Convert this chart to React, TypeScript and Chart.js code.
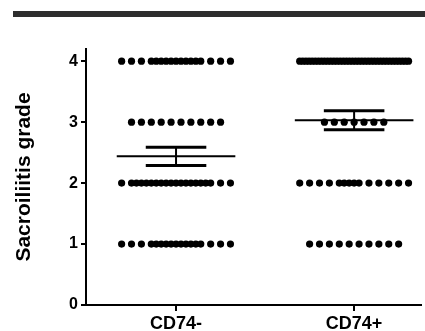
import React, { useEffect, useRef } from "react";
import { Chart, registerables } from "chart.js";

Chart.register(...registerables);

// ---- data ----
const categories = ["CD74-", "CD74+"];
const grades = [0, 1, 2, 3, 4];
const cd74NegCounts = [0, 17, 20, 10, 17]; // number of patients per grade
const cd74PosCounts = [0, 10, 14, 7, 36];
const groupMeans = [2.44, 3.03];
const groupSems = [0.15, 0.155];
const yTickValues = [0, 1, 2, 3, 4];

// ---- styling constants ----
const FONT = "'Liberation Sans', Arial, Helvetica, sans-serif";
const SLOT = 10 / 180; // dot spacing in x units
const MAX_SLOTS = 12;
const MEAN_HALF = 0.333;
const CAP_HALF = 0.17;

function layoutOffsets(n: number): number[] {
  const out: number[] = [];
  if (n <= 0) return out;
  if (n <= MAX_SLOTS) {
    for (let i = 0; i < n; i++) out.push((i - (n - 1) / 2) * SLOT);
    return out;
  }
  const base = ((MAX_SLOTS - 1) * SLOT) / 2;
  if (n <= 2 * MAX_SLOTS - 1) {
    for (let k = 0; k < MAX_SLOTS; k++) out.push(k * SLOT - base);
    const extras = n - MAX_SLOTS;
    const start = Math.floor((MAX_SLOTS - 1 - extras) / 2);
    for (let j = 0; j < extras; j++) out.push((start + j + 0.5) * SLOT - base);
    return out;
  }
  const w = (MAX_SLOTS - 1) * SLOT;
  for (let i = 0; i < n; i++) out.push(-w / 2 + (i * w) / (n - 1));
  return out;
}

function groupPoints(center: number, counts: number[]) {
  const pts: { x: number; y: number }[] = [];
  counts.forEach((c, i) => {
    layoutOffsets(c).forEach((o) => pts.push({ x: center + o, y: grades[i] }));
  });
  return pts;
}

function seg(x1: number, y1: number, x2: number, y2: number, width: number) {
  return {
    type: "line" as const,
    data: [
      { x: x1, y: y1 },
      { x: x2, y: y2 },
    ],
    showLine: true,
    borderColor: "#000",
    borderWidth: width,
    borderCapStyle: "butt" as const,
    pointRadius: 0,
    pointHoverRadius: 0,
    fill: false,
    order: 0,
  };
}

export default function App() {
  const ref = useRef<HTMLCanvasElement | null>(null);

  useEffect(() => {
    if (!ref.current) return;
    const countsList = [cd74NegCounts, cd74PosCounts];
    const datasets: any[] = [];
    countsList.forEach((counts, gi) => {
      datasets.push({
        type: "scatter",
        data: groupPoints(gi + 1, counts),
        backgroundColor: "#000",
        borderWidth: 0,
        pointRadius: 3.6,
        pointHoverRadius: 3.6,
        order: 1,
      });
    });
    groupMeans.forEach((m, gi) => {
      const g = gi + 1;
      const s = groupSems[gi];
      datasets.push(seg(g - MEAN_HALF, m, g + MEAN_HALF, m, 2));
      datasets.push(seg(g - CAP_HALF, m + s, g + CAP_HALF, m + s, 3));
      datasets.push(seg(g - CAP_HALF, m - s, g + CAP_HALF, m - s, 3));
      datasets.push(seg(g, m - s, g, m + s, 2));
    });

    const chart = new Chart(ref.current, {
      type: "scatter",
      data: { datasets },
      options: {
        animation: false,
        responsive: false,
        devicePixelRatio: 1,
        layout: { padding: { top: 49, left: 0, right: 0, bottom: 0 } },
        plugins: { legend: { display: false }, tooltip: { enabled: false } },
        scales: {
          x: {
            type: "linear",
            min: 0.4944,
            max: 2.3778,
            afterBuildTicks: (scale: any) => {
              scale.ticks = categories.map((_, i) => ({ value: i + 1 }));
            },
            afterFit: (scale: any) => {
              scale.height = 26;
            },
            ticks: {
              callback: (v: any) => categories[Math.round(Number(v)) - 1] ?? "",
              color: "#000",
              font: { family: FONT, size: 18, weight: "bold" },
              padding: 2,
              maxRotation: 0,
              autoSkip: false,
            },
            grid: {
              drawOnChartArea: false,
              drawTicks: true,
              tickLength: 6,
              color: "#000",
              lineWidth: 2,
            },
            border: { display: true, color: "#000", width: 2 },
          },
          y: {
            type: "linear",
            min: 0,
            max: 4.2,
            afterBuildTicks: (scale: any) => {
              scale.ticks = yTickValues.map((v) => ({ value: v }));
            },
            afterFit: (scale: any) => {
              scale.width = 86;
            },
            ticks: {
              color: "#000",
              font: { family: FONT, size: 16, weight: "bold" },
              padding: 3,
            },
            grid: {
              drawOnChartArea: false,
              drawTicks: true,
              tickLength: 5,
              color: "#000",
              lineWidth: 2,
            },
            border: { display: true, color: "#000", width: 2 },
            title: {
              display: true,
              text: "Sacroiliitis grade",
              color: "#000",
              font: { family: FONT, size: 21, weight: "bold" },
              padding: { top: 12, bottom: 0 },
            },
          },
        },
      },
    });
    return () => chart.destroy();
  }, []);

  return (
    <div
      style={{
        position: "fixed",
        left: 0,
        top: 0,
        width: 425,
        height: 331,
        background: "#fff",
      }}
    >
      <div
        style={{
          position: "absolute",
          left: 13,
          top: 11,
          width: 412,
          height: 6,
          background: "#2e2e2e",
        }}
      />
      <canvas
        ref={ref}
        width={425}
        height={331}
        style={{ position: "absolute", left: 0, top: 0, width: 425, height: 331 }}
      />
    </div>
  );
}
